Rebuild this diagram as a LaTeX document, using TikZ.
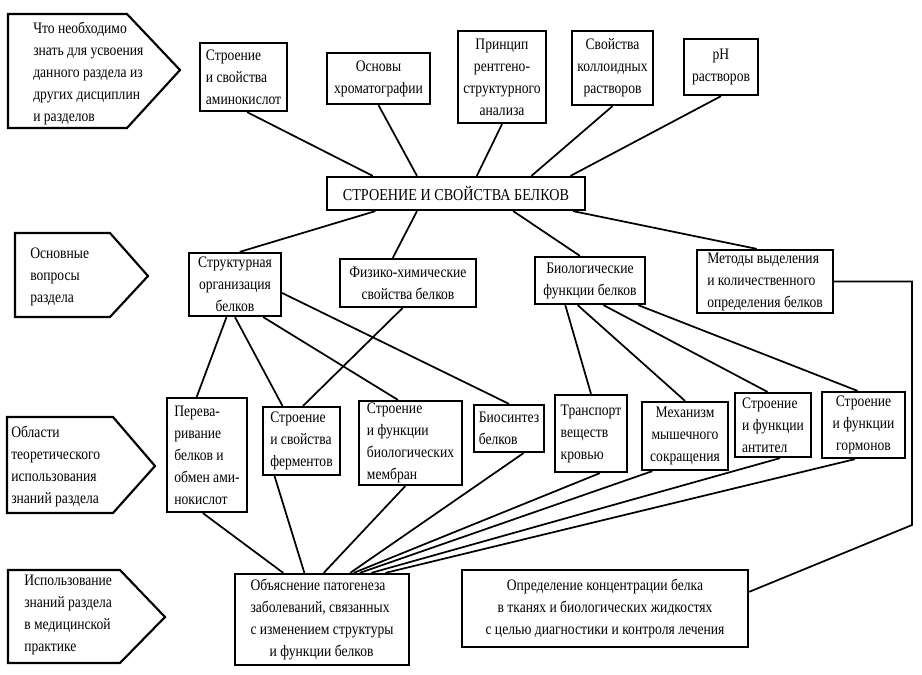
\documentclass[tikz,border=0pt]{standalone}
\usepackage{fontspec}
\setmainfont{Liberation Serif}[FakeStretch=0.85]
\usetikzlibrary{calc}
\newcommand\boxfont{\fontsize{12}{16.5}\selectfont}

\begin{document}
\begin{tikzpicture}[x=0.75pt, y=-0.75pt,
  box/.style={draw, line width=1.7pt, inner sep=1pt, align=center, font=\boxfont},
  wh/.style 2 args={minimum width=#1*0.75pt, minimum height=#2*0.75pt},
  tag/.style={draw, line width=1.6pt, line join=miter},
  txt/.style={anchor=west, inner sep=0pt, align=left, font=\boxfont},
  ln/.style={line width=1.3pt}]
  \useasboundingbox (0,0) rectangle (922,675);

  % left column: pointers with the level names
  \draw[tag] (8,14) -- (127,14) -- (180,70) -- (127,128) -- (8,128) -- cycle;
  \node[txt] (lvla) at (33,73) {Что необходимо\\знать для усвоения\\данного раздела из\\других дисциплин\\и разделов};
  \draw[tag] (15,233) -- (110,233) -- (148,276) -- (110,317) -- (15,317) -- cycle;
  \node[txt] (lvlb) at (30,277) {Основные\\вопросы\\раздела};
  \draw[tag] (7,417) -- (113,417) -- (155,466) -- (113,513) -- (7,513) -- cycle;
  \node[txt] (lvlc) at (11,466) {Области\\теоретического\\использования\\знаний раздела};
  \draw[tag] (8,570) -- (120,570) -- (165,617) -- (120,663) -- (8,663) -- cycle;
  \node[txt] (lvld) at (24,615) {Использование\\знаний раздела\\в медицинской\\практике};

  % prerequisites
  \node[box, wh={87}{68}, align=left] (amino) at (243.5,77) {Строение\\и свойства\\аминокислот};
  \node[box, wh={103}{51}] (chrom) at (378.5,78.5) {Основы\\хроматографии};
  \node[box, wh={88}{92}] (xray) at (502,77) {Принцип\\рентгено-\\структурного\\анализа};
  \node[box, wh={81}{74}] (coll) at (612.5,68) {Свойства\\коллоидных\\растворов};
  \node[box, wh={74}{56}] (ph) at (721,67) {pH\\растворов};

  % topic
  \node[box, wh={258}{33}, font=\fontsize{12.5}{15}\selectfont] (main) at (456,193.5) {СТРОЕНИЕ И СВОЙСТВА БЕЛКОВ};

  % main questions
  \node[box, wh={92}{63}] (struc) at (235,284.5) {Структурная\\организация\\белков};
  \node[box, wh={136}{48}] (phys) at (408,283) {Физико-химические\\свойства белков};
  \node[box, wh={110}{47}] (bio) at (590,280.5) {Биологические\\функции белков};
  \node[box, wh={136}{63}, align=left] (meth) at (765,281.5) {Методы выделения\\и количественного\\определения белков};

  % theoretical use
  \node[box, wh={80}{114}, align=left] (dig) at (207,455) {Перева-\\ривание\\белков и\\обмен ами-\\нокислот};
  \node[box, wh={77}{68}, align=left] (enz) at (301.5,441) {Строение\\и свойства\\ферментов};
  \node[box, wh={103}{84}, align=left] (memb) at (410.5,443) {Строение\\и функции\\биологических\\мембран};
  \node[box, wh={70}{47}, align=left] (bsyn) at (509,428.5) {Биосинтез\\белков};
  \node[box, wh={72}{77}, align=left] (trans) at (591,433.5) {Транспорт\\веществ\\кровью};
  \node[box, wh={86}{68}] (musc) at (685,436) {Механизм\\мышечного\\сокращения};
  \node[box, wh={76}{64}, align=left] (antib) at (773,425) {Строение\\и функции\\антител};
  \node[box, wh={83}{66}] (horm) at (863.5,425) {Строение\\и функции\\гормонов};

  % medical practice
  \node[box, wh={174}{91}, align=left] (patho) at (322,619.5)
    {Объяснение патогенеза\\заболеваний, связанных\\с изменением структуры\\\hspace*{1.2em}и функции белков};
  \node[box, wh={286}{77}] (conc) at (605,608.5)
    {Определение концентрации белка\\в тканях и биологических жидкостях\\с целью диагностики и контроля лечения};

  \draw[ln] ($(amino.south west)!.54!(amino.south east)$) -- ($(main.north west)!.18!(main.north east)$);
  \draw[ln] (chrom.south) -- ($(main.north west)!.35!(main.north east)$);
  \draw[ln] (xray.south) -- ($(main.north west)!.58!(main.north east)$);
  \draw[ln] (coll.south) -- ($(main.north west)!.79!(main.north east)$);
  \draw[ln] (ph.south) -- ($(main.north west)!.94!(main.north east)$);

  \draw[ln] ($(main.south west)!.19!(main.south east)$) -- ($(struc.north west)!.55!(struc.north east)$);
  \draw[ln] ($(main.south west)!.35!(main.south east)$) -- ($(phys.north west)!.39!(phys.north east)$);
  \draw[ln] ($(main.south west)!.72!(main.south east)$) -- ($(bio.north west)!.41!(bio.north east)$);
  \draw[ln] ($(main.south west)!.95!(main.south east)$) -- ($(meth.north west)!.44!(meth.north east)$);

  \coordinate (bend) at (912,525);
  \draw[ln] (meth.east) -| (bend) -- ($(conc.north east)!.29!(conc.south east)$);

  \draw[ln] ($(struc.south west)!.41!(struc.south east)$) -- ($(dig.north west)!.375!(dig.north east)$);
  \draw[ln] (struc.south) -- ($(enz.north west)!.26!(enz.north east)$);
  \draw[ln] ($(struc.south west)!.8!(struc.south east)$) -- ($(memb.north west)!.38!(memb.north east)$);
  \draw[ln] ($(struc.north east)!.63!(struc.south east)$) -- (bsyn.north);
  \draw[ln] ($(phys.south west)!.46!(phys.south east)$) -- ($(enz.north west)!.52!(enz.north east)$);

  \draw[ln] ($(bio.south west)!.28!(bio.south east)$) -- (trans.north);
  \draw[ln] ($(bio.south west)!.39!(bio.south east)$) -- (musc.north);
  \draw[ln] ($(bio.south west)!.62!(bio.south east)$) -- ($(antib.north west)!.43!(antib.north east)$);
  \draw[ln] ($(bio.south west)!.93!(bio.south east)$) -- ($(horm.north west)!.43!(horm.north east)$);

  % everything that leads to the pathogenesis box
  \foreach \src/\a/\b in {dig/.45/.28, enz/.16/.40, memb/.45/.51, bsyn/.70/.66,
                         trans/.62/.68, musc/.13/.715, antib/.59/.78, horm/.40/.86}
    \draw[ln] ($(\src.south west)!\a!(\src.south east)$) -- ($(patho.north west)!\b!(patho.north east)$);
\end{tikzpicture}
\end{document}
